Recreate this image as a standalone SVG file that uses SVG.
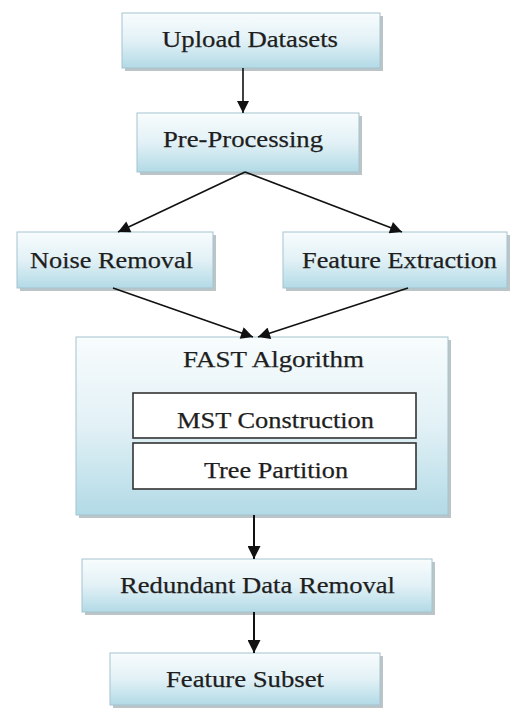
<svg xmlns="http://www.w3.org/2000/svg" width="521" height="708" viewBox="0 0 521 708">
<defs>
<linearGradient id="g" x1="0" y1="0" x2="0" y2="1">
<stop offset="0" stop-color="#f8fcfd"/>
<stop offset="0.5" stop-color="#e2f1f6"/>
<stop offset="1" stop-color="#b2dae6"/>
</linearGradient>
<marker id="ah" viewBox="0 0 10 10" refX="10" refY="5" markerWidth="13" markerHeight="12" markerUnits="userSpaceOnUse" orient="auto">
<path d="M0,0 L10,5 L0,10 Z" fill="#111"/>
</marker>
<marker id="ahb" viewBox="0 0 10 10" refX="10" refY="5" markerWidth="14" markerHeight="13" markerUnits="userSpaceOnUse" orient="auto">
<path d="M0,0 L10,5 L0,10 Z" fill="#111"/>
</marker>
</defs>
<style>
.box{fill:url(#g);stroke:#a4c3cf;stroke-width:1}
.sh{fill:#8e9ca1;opacity:0.6}
.inner{fill:#fff;stroke:#333;stroke-width:1.6}
text{font-family:"Liberation Serif","Times New Roman",serif;font-size:24px;fill:#1e1e1e;stroke:#1e1e1e;stroke-width:0.25}
.c{stroke:#111;stroke-width:1.6;fill:none;marker-end:url(#ah)}
.cb{stroke:#111;stroke-width:2;fill:none;marker-end:url(#ahb)}
</style>
<rect width="521" height="708" fill="#fff"/>
<g id="upload">
<rect class="sh" x="125" y="16" width="258" height="55"/>
<rect class="box" x="122" y="13" width="258" height="55"/>
<text x="162" y="47" textLength="176" lengthAdjust="spacingAndGlyphs">Upload Datasets</text>
</g>
<g id="preprocessing">
<rect class="sh" x="140" y="116" width="222" height="59"/>
<rect class="box" x="137" y="113" width="222" height="59"/>
<text x="163" y="147" textLength="160" lengthAdjust="spacingAndGlyphs">Pre-Processing</text>
</g>
<g id="noise">
<rect class="sh" x="20" y="235" width="196" height="56"/>
<rect class="box" x="17" y="232" width="196" height="56"/>
<text x="30" y="268" textLength="163" lengthAdjust="spacingAndGlyphs">Noise Removal</text>
</g>
<g id="extraction">
<rect class="sh" x="286" y="235" width="224" height="56"/>
<rect class="box" x="283" y="232" width="224" height="56"/>
<text x="302" y="268" textLength="195" lengthAdjust="spacingAndGlyphs">Feature Extraction</text>
</g>
<g id="fast">
<rect class="sh" x="79" y="340" width="372" height="178"/>
<rect class="box" x="76" y="337" width="372" height="178"/>
<text x="183" y="367" textLength="181" lengthAdjust="spacingAndGlyphs">FAST Algorithm</text>
</g>
<g id="mst">
<rect class="inner" x="133" y="393" width="283" height="45"/>
<text x="177" y="428" textLength="197" lengthAdjust="spacingAndGlyphs">MST Construction</text>
</g>
<g id="tree">
<rect class="inner" x="133" y="443" width="283" height="46"/>
<text x="204" y="478" textLength="144" lengthAdjust="spacingAndGlyphs">Tree Partition</text>
</g>
<g id="redundant">
<rect class="sh" x="85" y="562" width="350" height="53"/>
<rect class="box" x="82" y="559" width="350" height="53"/>
<text x="120" y="593" textLength="275" lengthAdjust="spacingAndGlyphs">Redundant Data Removal</text>
</g>
<g id="subset">
<rect class="sh" x="113" y="656" width="270" height="52"/>
<rect class="box" x="110" y="653" width="270" height="52"/>
<text x="166" y="687" textLength="158" lengthAdjust="spacingAndGlyphs">Feature Subset</text>
</g>
<g id="connectors">
<line class="c" x1="243" y1="68" x2="243" y2="113"/>
<line class="c" x1="245" y1="172" x2="118" y2="232"/>
<line class="c" x1="245" y1="172" x2="402" y2="232"/>
<line class="c" x1="113" y1="288" x2="253" y2="337"/>
<line class="c" x1="408" y1="288" x2="258" y2="337"/>
<line class="cb" x1="254" y1="515" x2="254" y2="559"/>
<line class="cb" x1="254" y1="612" x2="254" y2="653"/>
</g>
</svg>
